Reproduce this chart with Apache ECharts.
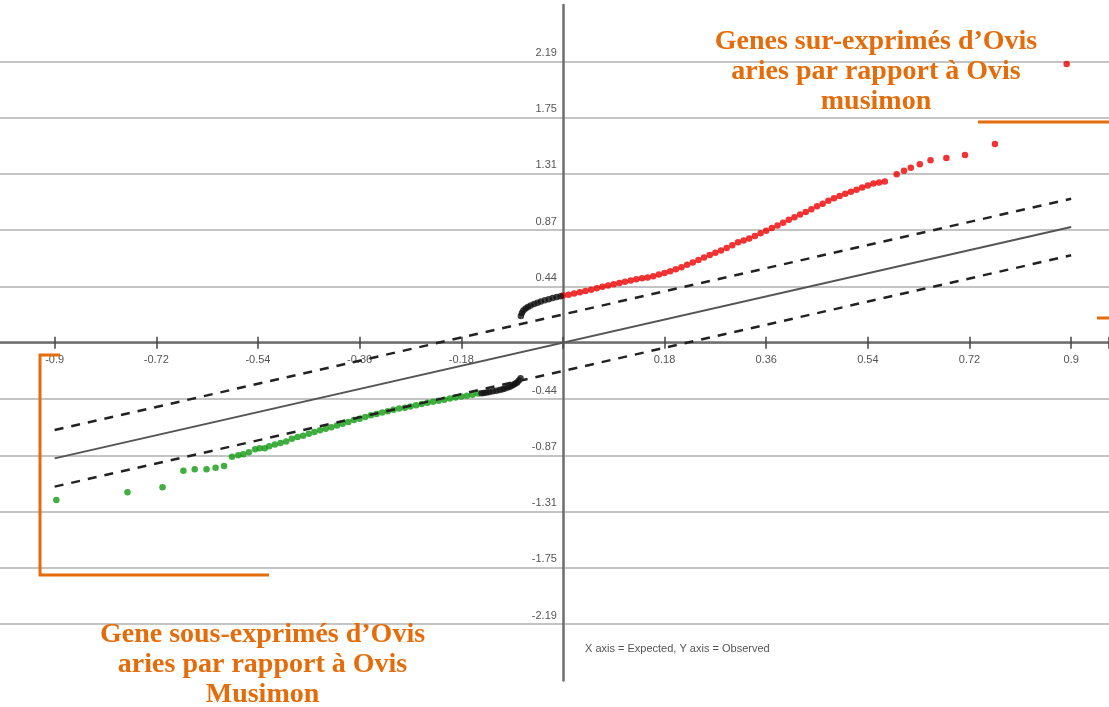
<!DOCTYPE html>
<html>
<head>
<meta charset="utf-8">
<title>SAM plot</title>
<script src="https://cdn.jsdelivr.net/npm/echarts@6/dist/echarts.min.js"></script>
<style>
  html, body { margin: 0; padding: 0; background: #ffffff; }
  #chart { width: 1109px; height: 707px; }
</style>
</head>
<body>
<div id="chart"></div>
<script>
// Axis ticks and their printed labels
const xStep = 0.18;
const yStep = 0.438;
const xTickLabels = ['-0.9', '-0.72', '-0.54', '-0.36', '-0.18', '', '0.18', '0.36', '0.54', '0.72', '0.9'];
const yTickLabels = ['-2.19', '-1.75', '-1.31', '-0.87', '-0.44', '', '0.44', '0.87', '1.31', '1.75', '2.19'];

// Expected (x) vs observed (y) scores
const upGenes = [
  [0.00, 0.367], [0.01, 0.374], [0.02, 0.382], [0.03, 0.392], [0.04, 0.402], [0.05, 0.412],
  [0.06, 0.424], [0.07, 0.436], [0.08, 0.446], [0.09, 0.455], [0.10, 0.464], [0.11, 0.474],
  [0.12, 0.484], [0.13, 0.493], [0.14, 0.501], [0.15, 0.508], [0.16, 0.518], [0.17, 0.530],
  [0.18, 0.542], [0.19, 0.556], [0.20, 0.571], [0.21, 0.588], [0.22, 0.606], [0.23, 0.625],
  [0.24, 0.644], [0.25, 0.663], [0.26, 0.682], [0.27, 0.700], [0.28, 0.718], [0.29, 0.736],
  [0.30, 0.758], [0.31, 0.782], [0.32, 0.795], [0.33, 0.811], [0.34, 0.830], [0.35, 0.851],
  [0.36, 0.872], [0.37, 0.892], [0.38, 0.912], [0.39, 0.933], [0.40, 0.956], [0.41, 0.977],
  [0.42, 0.998], [0.43, 1.018], [0.44, 1.039], [0.45, 1.061], [0.46, 1.082], [0.47, 1.104],
  [0.48, 1.124], [0.49, 1.142], [0.50, 1.159], [0.51, 1.174], [0.52, 1.191], [0.53, 1.207],
  [0.54, 1.223], [0.55, 1.239], [0.56, 1.246], [0.57, 1.254],
  [0.591, 1.311], [0.604, 1.339], [0.616, 1.362], [0.632, 1.388], [0.651, 1.419],
  [0.679, 1.437], [0.712, 1.461], [0.765, 1.546], [0.892, 2.169]
];

const downGenes = [
  [-0.15, -0.396], [-0.16, -0.405], [-0.17, -0.412], [-0.18, -0.419], [-0.19, -0.427],
  [-0.20, -0.435], [-0.21, -0.444], [-0.22, -0.452], [-0.23, -0.459], [-0.24, -0.468],
  [-0.25, -0.477], [-0.26, -0.486], [-0.27, -0.497], [-0.28, -0.507], [-0.29, -0.512],
  [-0.30, -0.522], [-0.31, -0.533], [-0.32, -0.543], [-0.33, -0.554], [-0.34, -0.565],
  [-0.35, -0.578], [-0.36, -0.591], [-0.37, -0.602], [-0.38, -0.617], [-0.39, -0.631],
  [-0.40, -0.644], [-0.41, -0.658], [-0.42, -0.670], [-0.43, -0.682], [-0.44, -0.695],
  [-0.45, -0.708], [-0.46, -0.724], [-0.47, -0.734], [-0.48, -0.747], [-0.49, -0.769],
  [-0.50, -0.781], [-0.51, -0.792], [-0.52, -0.805],
  [-0.528, -0.822], [-0.537, -0.822], [-0.545, -0.830], [-0.556, -0.853], [-0.566, -0.868],
  [-0.575, -0.876], [-0.586, -0.887], [-0.600, -0.960], [-0.615, -0.973], [-0.631, -0.985],
  [-0.652, -0.985], [-0.672, -0.996], [-0.709, -1.125], [-0.771, -1.164], [-0.897, -1.224]
];

const neutralUpper = [
  [-0.0744, 0.208], [-0.0726, 0.231], [-0.0700, 0.251], [-0.0660, 0.266], [-0.0620, 0.278],
  [-0.0570, 0.289], [-0.0510, 0.301], [-0.0450, 0.311], [-0.0390, 0.321], [-0.0320, 0.330],
  [-0.0250, 0.339], [-0.0180, 0.347], [-0.0110, 0.355], [-0.0040, 0.362]
];

const neutralLower = [
  [-0.144, -0.394], [-0.140, -0.391], [-0.135, -0.388], [-0.130, -0.384], [-0.124, -0.378],
  [-0.118, -0.373], [-0.112, -0.368], [-0.107, -0.362], [-0.103, -0.356], [-0.098, -0.349],
  [-0.094, -0.342], [-0.090, -0.334], [-0.087, -0.325], [-0.084, -0.318], [-0.081, -0.310],
  [-0.078, -0.294], [-0.075, -0.277]
];

// Reference line (observed = expected) and the +/- delta thresholds
const identityLine = [[-0.9, -0.9], [0.9, 0.9]];
const upperLimit = [[-0.9, -0.68], [0.9, 1.12]];
const lowerLimit = [[-0.9, -1.12], [0.9, 0.68]];

// Plot frame: the grid runs a little past the left edge so the
// horizontal rules reach across the whole canvas
const W = 1109, H = 707;
const gridLeft = -47, gridTop = 5, gridBottom = 26.6;
const xMin = -1.08, xMax = 0.967;
const yMin = -6 * yStep, yMax = 6 * yStep;

const axisGray = '#6e6e6e';
const labelGray = '#555555';
const orange = '#E46C0A';

function tickLabel(labels, step) {
  return function (v) {
    const i = Math.round(v / step);
    if (Math.abs(v - i * step) > 1e-6) return '';
    const s = labels[i + 5];
    return s === undefined ? '' : s;
  };
}

// Where the zero of each axis falls, so the label-only axes can sit on the cross
const plotW = W - gridLeft;
const plotH = H - gridTop - gridBottom;
const zeroX = gridLeft + (0 - xMin) / (xMax - xMin) * plotW;
const zeroY = gridTop + (yMax - 0) / (yMax - yMin) * plotH;

const chart = echarts.init(document.getElementById('chart'), null, { renderer: 'canvas' });

const dotSeries = (name, data, color) => ({
  name, type: 'scatter', data, symbol: 'circle', symbolSize: 6.5,
  itemStyle: { color }, silent: true, z: 3
});

const refLine = (name, data, color, width, type) => ({
  name, type: 'line', data, showSymbol: false, symbol: 'none', silent: true, z: 4,
  lineStyle: { color, width, type }
});

const xBase = { type: 'value', min: xMin, max: xMax, interval: xStep, splitLine: { show: false } };
const yBase = { type: 'value', min: yMin, max: yMax, interval: yStep };

chart.setOption({
  animation: false,
  backgroundColor: '#ffffff',
  grid: {
    left: gridLeft, right: 0, top: gridTop, bottom: gridBottom,
    containLabel: false, outerBoundsMode: 'none'
  },
  xAxis: [
    Object.assign({}, xBase, {
      axisLine: { onZero: true, lineStyle: { color: axisGray, width: 2.5 } },
      axisTick: { show: true, inside: false, length: 6, lineStyle: { color: '#444', width: 1.5 } },
      axisLabel: { show: false }
    }),
    Object.assign({}, xBase, {
      position: 'bottom',
      axisLine: { show: false, onZero: true, onZeroAxisIndex: 0 },
      axisTick: { show: true, inside: true, length: 6, lineStyle: { color: '#444', width: 1.5 } },
      axisLabel: { show: false }
    }),
    Object.assign({}, xBase, {
      position: 'bottom',
      offset: -(H - gridBottom - zeroY),
      axisLine: { show: false, onZero: false },
      axisTick: { show: false },
      axisLabel: {
        formatter: tickLabel(xTickLabels, xStep), color: labelGray, fontSize: 11,
        fontFamily: 'Liberation Sans', margin: 12, showMinLabel: false, showMaxLabel: false
      }
    })
  ],
  yAxis: [
    Object.assign({}, yBase, {
      axisLine: { onZero: true, lineStyle: { color: axisGray, width: 2.5 } },
      axisTick: { show: false },
      axisLabel: { show: false },
      splitLine: {
        show: true, showMinLine: false, showMaxLine: false,
        lineStyle: { color: '#c4c4c4', width: 2 }
      }
    }),
    Object.assign({}, yBase, {
      position: 'left',
      offset: -(zeroX - gridLeft),
      axisLine: { show: false, onZero: false },
      axisTick: { show: false },
      splitLine: { show: false },
      axisLabel: {
        formatter: tickLabel(yTickLabels, yStep), color: labelGray, fontSize: 11,
        fontFamily: 'Liberation Sans', margin: 6, verticalAlign: 'bottom',
        padding: [0, 0, 3, 0], showMinLabel: false, showMaxLabel: false
      }
    })
  ],
  series: [
    dotSeries('Sur-exprimés', upGenes, '#ee0000'),
    dotSeries('Sous-exprimés', downGenes, '#109a10'),
    dotSeries('Non significatifs (haut)', neutralUpper, '#111111'),
    dotSeries('Non significatifs (bas)', neutralLower, '#111111'),
    refLine('Observé = attendu', identityLine, '#555555', 2, 'solid'),
    refLine('Seuil haut', upperLimit, '#222222', 2.5, [9, 8]),
    refLine('Seuil bas', lowerLimit, '#222222', 2.5, [9, 8])
  ],
  graphic: [
    {
      type: 'text', z: 10,
      style: {
        text: 'Genes sur-exprimés d\u2019Ovis\naries par rapport à Ovis\nmusimon',
        x: 876, y: 27, textAlign: 'center', textVerticalAlign: 'top',
        font: 'bold 28px "Liberation Serif", "Times New Roman", serif',
        lineHeight: 30, fill: orange
      }
    },
    {
      type: 'text', z: 10,
      style: {
        text: 'Gene sous-exprimés d\u2019Ovis\naries par rapport à Ovis\nMusimon',
        x: 262.5, y: 620, textAlign: 'center', textVerticalAlign: 'top',
        font: 'bold 28px "Liberation Serif", "Times New Roman", serif',
        lineHeight: 30, fill: orange
      }
    },
    {
      type: 'text', z: 10,
      style: {
        text: 'X axis = Expected, Y axis = Observed',
        x: 585, y: 649, textVerticalAlign: 'middle',
        font: '11px "Liberation Sans", Arial, sans-serif', fill: labelGray
      }
    },
    {
      type: 'polyline', z: 10,
      shape: { points: [[978, 122], [1109, 122]] },
      style: { stroke: orange, lineWidth: 3, fill: null }
    },
    {
      type: 'polyline', z: 10,
      shape: { points: [[1097, 318], [1109, 318]] },
      style: { stroke: orange, lineWidth: 3, fill: null }
    },
    {
      type: 'polyline', z: 10,
      shape: { points: [[60, 355], [40, 355], [40, 575], [269, 575]] },
      style: { stroke: orange, lineWidth: 3, fill: null }
    }
  ]
});
</script>
</body>
</html>
